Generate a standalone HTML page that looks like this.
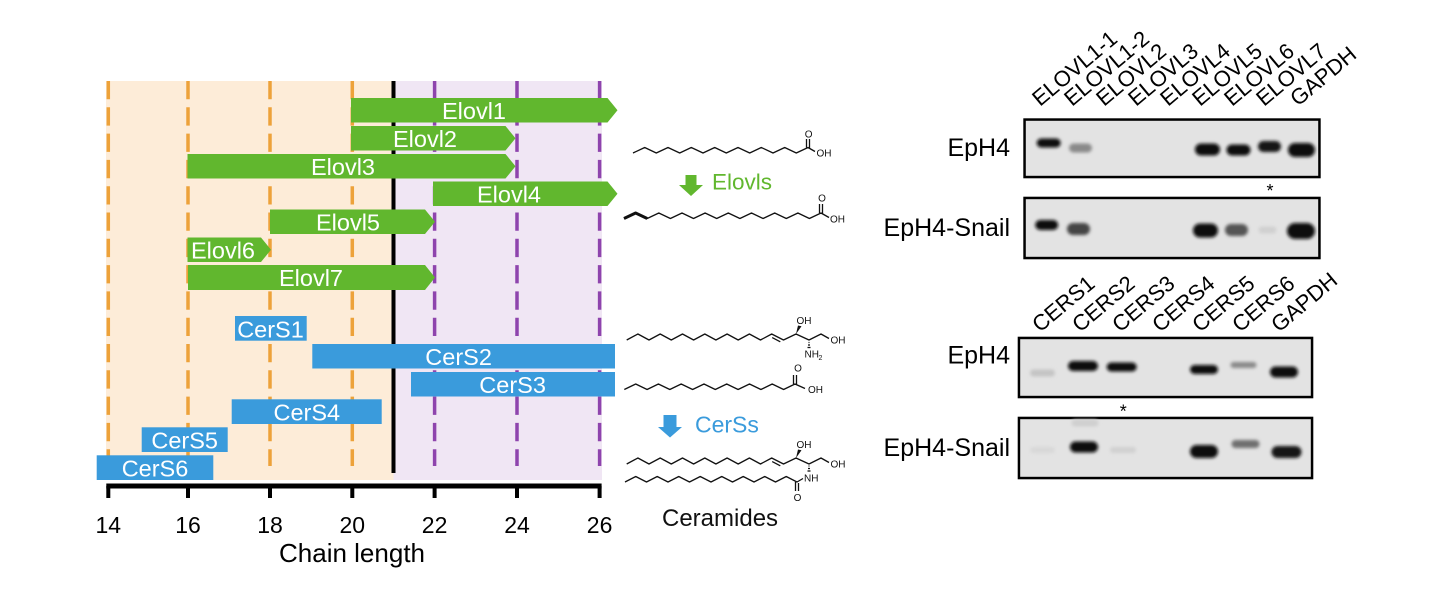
<!DOCTYPE html>
<html>
<head>
<meta charset="utf-8">
<style>
html,body{margin:0;padding:0;background:#fff;}
svg{display:block;}
text{font-family:"Liberation Sans",Arial,sans-serif;}
</style>
</head>
<body>
<svg width="1440" height="596" viewBox="0 0 1440 596" xmlns="http://www.w3.org/2000/svg">
<defs>
<filter id="b" x="-50%" y="-100%" width="200%" height="300%"><feGaussianBlur stdDeviation="1.6"/></filter>
</defs>
<rect x="0" y="0" width="1440" height="596" fill="#fff"/>

<!-- backgrounds -->
<rect x="106" y="81" width="287.5" height="399" fill="#fdecd8"/>
<rect x="393.5" y="81" width="208.5" height="399" fill="#f0e6f4"/>

<!-- dashed lines -->
<g stroke="#eda23a" stroke-width="3.5" stroke-dasharray="18.3 8">
<line x1="108.3" y1="81" x2="108.3" y2="466"/>
<line x1="188" y1="81" x2="188" y2="466"/>
<line x1="270" y1="81" x2="270" y2="466"/>
<line x1="352.3" y1="81" x2="352.3" y2="466"/>
</g>
<g stroke="#8e44ad" stroke-width="3.5" stroke-dasharray="18.3 8">
<line x1="434.6" y1="81" x2="434.6" y2="466"/>
<line x1="517" y1="81" x2="517" y2="466"/>
<line x1="599.6" y1="81" x2="599.6" y2="466"/>
</g>
<line x1="393.5" y1="81" x2="393.5" y2="473" stroke="#000" stroke-width="4"/>

<!-- Elovl arrows -->
<g fill="#61b72e">
<polygon points="351,98 607.5,98 617.5,110.25 607.5,122.5 351,122.5"/>
<polygon points="351,126 505.5,126 515.5,138.25 505.5,150.5 351,150.5"/>
<polygon points="187.5,154 505.5,154 515.5,166.25 505.5,178.5 187.5,178.5"/>
<polygon points="433,181.5 607.5,181.5 617.5,193.75 607.5,206 433,206"/>
<polygon points="270,209.5 425,209.5 435,221.75 425,234 270,234"/>
<polygon points="187.5,237.5 261,237.5 271,249.75 261,262 187.5,262"/>
<polygon points="188,265 425,265 435,277.5 425,290 188,290"/>
</g>
<g fill="#fff" font-size="23.5" text-anchor="middle">
<text x="474" y="119">Elovl1</text>
<text x="425" y="147">Elovl2</text>
<text x="343" y="175">Elovl3</text>
<text x="509" y="202.5">Elovl4</text>
<text x="348" y="230.5">Elovl5</text>
<text x="223" y="258.5">Elovl6</text>
<text x="311" y="286">Elovl7</text>
</g>

<!-- CerS bars -->
<g fill="#3a9bdc">
<rect x="235" y="316" width="71.7" height="24.7"/>
<rect x="312.3" y="344" width="302.7" height="24.5"/>
<rect x="411" y="372" width="204" height="24.5"/>
<rect x="231.7" y="399.3" width="150" height="24.7"/>
<rect x="141.7" y="427.3" width="86" height="24.7"/>
<rect x="96.7" y="455.3" width="116.6" height="24.7"/>
</g>
<g fill="#fff" font-size="23.5" text-anchor="middle">
<text x="270.5" y="337.3">CerS1</text>
<text x="458.6" y="365">CerS2</text>
<text x="512.6" y="393">CerS3</text>
<text x="306.8" y="420.5">CerS4</text>
<text x="184.7" y="448.3">CerS5</text>
<text x="155" y="476.3">CerS6</text>
</g>

<!-- axis -->
<line x1="106.3" y1="486" x2="601.6" y2="486" stroke="#000" stroke-width="5"/>
<g stroke="#000" stroke-width="4">
<line x1="108.3" y1="486" x2="108.3" y2="498"/>
<line x1="188" y1="486" x2="188" y2="498"/>
<line x1="270" y1="486" x2="270" y2="498"/>
<line x1="352.3" y1="486" x2="352.3" y2="498"/>
<line x1="434.6" y1="486" x2="434.6" y2="498"/>
<line x1="517" y1="486" x2="517" y2="498"/>
<line x1="599.6" y1="486" x2="599.6" y2="498"/>
</g>
<g fill="#000" font-size="23" text-anchor="middle">
<text x="108.3" y="533">14</text>
<text x="188" y="533">16</text>
<text x="270" y="533">18</text>
<text x="352.3" y="533">20</text>
<text x="434.6" y="533">22</text>
<text x="517" y="533">24</text>
<text x="599.6" y="533">26</text>
</g>
<text x="352" y="562" font-size="26" text-anchor="middle" fill="#000">Chain length</text>

<!-- Chemical structures -->
<g fill="none" stroke="#111" stroke-width="1.3" stroke-linejoin="round">
<!-- S1 -->
<polyline points="633,153 644.7,147.5 656.3,153 668,147.5 679.7,153 691.3,147.5 703,153 714.7,147.5 726.3,153 738,147.5 749.7,153 761.3,147.5 773,153 784.7,147.5 796.3,153 808,147.5 815,151.5"/>
<line x1="806.5" y1="147.5" x2="806.5" y2="139"/>
<line x1="809.5" y1="148.5" x2="809.5" y2="139"/>
<!-- S2 -->
<polyline points="624,218.5 635.6,213 647.2,218.5 658.8,213 670.4,218.5 682,213 693.5,218.5 705.1,213 716.7,218.5 728.3,213 739.9,218.5 751.5,213 763.1,218.5 774.7,213 786.3,218.5 797.9,213 809.4,218.5 821,213 829,217.5"/>
<line x1="819.5" y1="213" x2="819.5" y2="204"/>
<line x1="822.5" y1="214" x2="822.5" y2="204"/>
<!-- S3 -->
<polyline points="626.7,340 637.9,334 649,340 660.2,334 671.3,340 682.5,334 693.6,340 704.8,334 715.9,340 727.1,334 738.2,340 749.4,334 760.5,340 771.7,334 783.5,340 796,334 809,340 821,334 829,338.5"/>
<line x1="772.2" y1="337.6" x2="780.3" y2="341.8"/>
<line x1="808.5" y1="342.5" x2="809.5" y2="342.5"/>
<line x1="808" y1="345" x2="810" y2="345"/>
<line x1="807.5" y1="347.5" x2="810.5" y2="347.5"/>
<!-- S4 -->
<polyline points="624.3,389.5 635.7,384 647.1,389.5 658.4,384 669.8,389.5 681.2,384 692.6,389.5 704,384 715.3,389.5 726.7,384 738.1,389.5 749.5,384 760.9,389.5 772.2,384 783.6,389.5 795,384 805,388.5"/>
<line x1="793.5" y1="384" x2="793.5" y2="375"/>
<line x1="796.5" y1="385" x2="796.5" y2="375"/>
<!-- S5 upper -->
<polyline points="626.7,464 637.9,458 649,464 660.2,458 671.3,464 682.5,458 693.6,464 704.8,458 715.9,464 727.1,458 738.2,464 749.4,458 760.5,464 771.7,458 783.5,464 796,458 809,464 821,458 829,462.5"/>
<line x1="772.2" y1="461.6" x2="780.3" y2="465.8"/>
<line x1="808.5" y1="466" x2="809.5" y2="466"/>
<line x1="808" y1="468.5" x2="810" y2="468.5"/>
<line x1="807.5" y1="471" x2="810.5" y2="471"/>
<!-- S5 lower -->
<polyline points="625,482 635.75,476.5 646.5,482 657.25,476.5 668,482 678.75,476.5 689.5,482 700.25,476.5 711,482 721.75,476.5 732.5,482 743.25,476.5 754,482 764.75,476.5 775.5,482 786.25,476.5 797,482 803,478.5"/>
<line x1="795.5" y1="482" x2="795.5" y2="491"/>
<line x1="798.5" y1="483" x2="798.5" y2="491"/>
</g>
<polyline points="624,218.5 635.6,213 647.2,218.5" fill="none" stroke="#111" stroke-width="3" stroke-linejoin="round"/>
<polygon points="796,334 798,325.5 801.5,326.3" fill="#111"/>
<polygon points="796,458 798,449.5 801.5,450.3" fill="#111"/>
<g fill="#111" font-size="10">
<text x="808.7" y="137.5" text-anchor="middle">O</text>
<text x="816.5" y="156.7">OH</text>
<text x="822" y="201.7" text-anchor="middle">O</text>
<text x="830" y="222.7">OH</text>
<text x="804" y="324" text-anchor="middle">OH</text>
<text x="830.5" y="343.5">OH</text>
<text x="804.5" y="357.5">NH</text><text x="818.5" y="360" font-size="7">2</text>
<text x="798" y="371.7" text-anchor="middle">O</text>
<text x="808" y="393">OH</text>
<text x="804" y="448" text-anchor="middle">OH</text>
<text x="830.5" y="467.5">OH</text>
<text x="804" y="481.5">NH</text>
<text x="797.5" y="501" text-anchor="middle">O</text>
</g>

<!-- Elovls arrow -->
<polygon points="685.5,175 696.5,175 696.5,185 703,185 691,196 679,185 685.5,185" fill="#61b72e"/>
<text x="712" y="189.3" font-size="22.5" fill="#61b72e">Elovls</text>
<!-- CerSs arrow -->
<polygon points="663.5,415 676.5,415 676.5,427 682,427 670,437.5 658,427 663.5,427" fill="#3a9bdc"/>
<text x="695" y="432.7" font-size="23" fill="#3a9bdc">CerSs</text>
<text x="662" y="526" font-size="24" fill="#111">Ceramides</text>

<!-- Gel labels ELOVL -->
<g fill="#000" font-size="22">
<text transform="translate(1040,107) rotate(-40)">ELOVL1-1</text>
<text transform="translate(1072,107) rotate(-40)">ELOVL1-2</text>
<text transform="translate(1104,107) rotate(-40)">ELOVL2</text>
<text transform="translate(1136,107) rotate(-40)">ELOVL3</text>
<text transform="translate(1168,107) rotate(-40)">ELOVL4</text>
<text transform="translate(1200,107) rotate(-40)">ELOVL5</text>
<text transform="translate(1232,107) rotate(-40)">ELOVL6</text>
<text transform="translate(1264,107) rotate(-40)">ELOVL7</text>
<text transform="translate(1298,107) rotate(-40)">GAPDH</text>
</g>
<g fill="#000" font-size="22">
<text transform="translate(1040,333) rotate(-40)">CERS1</text>
<text transform="translate(1080,333) rotate(-40)">CERS2</text>
<text transform="translate(1120,333) rotate(-40)">CERS3</text>
<text transform="translate(1160,333) rotate(-40)">CERS4</text>
<text transform="translate(1200,333) rotate(-40)">CERS5</text>
<text transform="translate(1240,333) rotate(-40)">CERS6</text>
<text transform="translate(1279,333) rotate(-40)">GAPDH</text>
</g>

<!-- row labels -->
<g fill="#000" font-size="25" text-anchor="end">
<text x="1010" y="156">EpH4</text>
<text x="1010" y="236">EpH4-Snail</text>
<text x="1010" y="363.5">EpH4</text>
<text x="1010" y="456">EpH4-Snail</text>
</g>

<!-- Gels -->
<g fill="#e3e3e3" stroke="#000" stroke-width="2.5">
<rect x="1024.55" y="119.55" width="294.9" height="57.5"/>
<rect x="1024.55" y="197.95" width="294.9" height="60.1"/>
<rect x="1018.95" y="337.95" width="293.1" height="59.1"/>
<rect x="1018.95" y="417.95" width="293.1" height="60.1"/>
</g>

<!-- Bands gel 1 -->
<g filter="url(#b)">
<rect x="1036.7" y="138.5" width="24" height="9" rx="4.5" fill="#111"/>
<rect x="1069" y="143.5" width="23" height="9" rx="4.5" fill="#8a8a8a"/>
<rect x="1195" y="143.5" width="25" height="12" rx="6" fill="#0a0a0a"/>
<rect x="1226.5" y="144.5" width="24" height="11" rx="5.5" fill="#111"/>
<rect x="1258" y="141" width="23" height="11" rx="5.5" fill="#151515"/>
<rect x="1288" y="143" width="27" height="14" rx="7" fill="#0a0a0a"/>
</g>
<!-- Bands gel 2 -->
<g filter="url(#b)">
<rect x="1035.2" y="220" width="23" height="10" rx="5" fill="#0d0d0d"/>
<rect x="1067" y="223" width="23" height="12" rx="6" fill="#444"/>
<rect x="1193" y="223.5" width="25" height="14" rx="7" fill="#0a0a0a"/>
<rect x="1225" y="224" width="23" height="12" rx="6" fill="#555"/>
<rect x="1258.5" y="226.5" width="18" height="7" rx="3.5" fill="#d0d0d0"/>
<rect x="1287" y="223" width="28" height="16" rx="8" fill="#0a0a0a"/>
</g>
<!-- Bands gel 3 -->
<g filter="url(#b)">
<rect x="1030" y="369.5" width="25" height="7" rx="3.5" fill="#c4c4c4"/>
<rect x="1068" y="361" width="30" height="10" rx="5" fill="#0a0a0a"/>
<rect x="1106.7" y="362.5" width="30" height="9" rx="4.5" fill="#111"/>
<rect x="1190" y="365" width="28" height="9" rx="4.5" fill="#111"/>
<rect x="1230.5" y="362" width="26" height="6" rx="3" fill="#8a8a8a"/>
<rect x="1270" y="366.5" width="28" height="11" rx="5.5" fill="#0d0d0d"/>
</g>
<!-- Bands gel 4 -->
<g filter="url(#b)">
<rect x="1030" y="447" width="25" height="6" rx="3" fill="#d8d8d8"/>
<rect x="1071.5" y="419.5" width="27" height="7" rx="3.5" fill="#cfcfcf"/>
<rect x="1070" y="441.5" width="28" height="11" rx="5.5" fill="#0a0a0a"/>
<rect x="1110" y="447" width="26" height="6" rx="3" fill="#d0d0d0"/>
<rect x="1190" y="445" width="28" height="13" rx="6.5" fill="#0a0a0a"/>
<rect x="1231.5" y="440" width="28" height="8" rx="4" fill="#707070"/>
<rect x="1271.5" y="446" width="30" height="12" rx="6" fill="#151515"/>
</g>

<!-- asterisks -->
<text x="1270" y="197" font-size="18" text-anchor="middle" fill="#000">*</text>
<text x="1123.3" y="417.5" font-size="18" text-anchor="middle" fill="#000">*</text>
</svg>
</body>
</html>
